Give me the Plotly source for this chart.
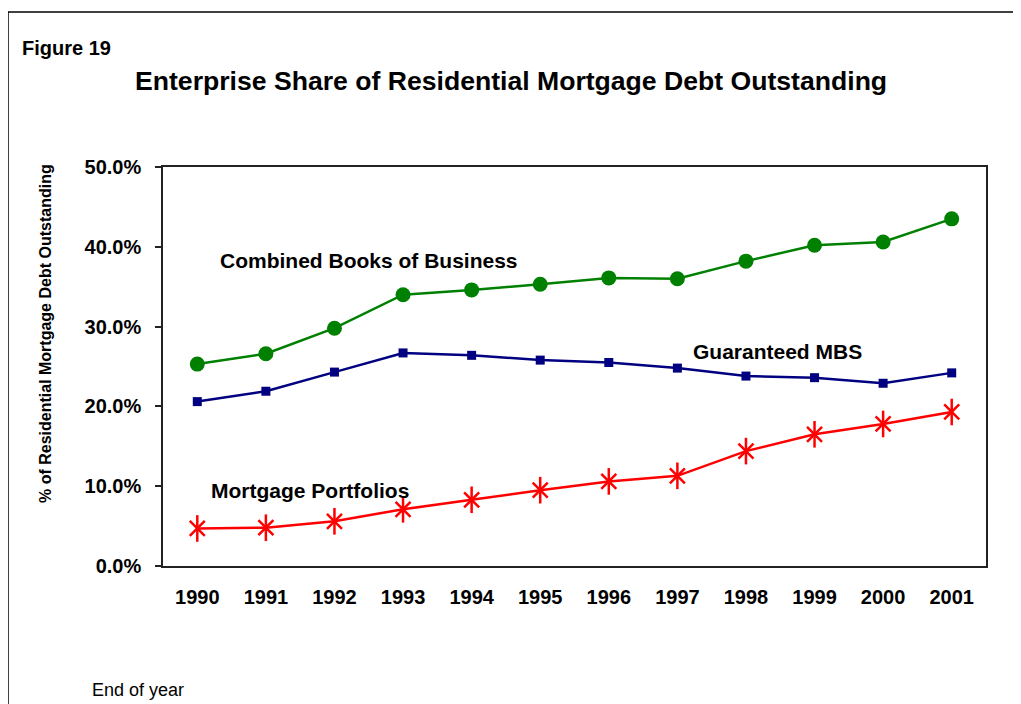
import plotly.graph_objects as go

years = ["1990", "1991", "1992", "1993", "1994", "1995", "1996", "1997", "1998", "1999", "2000", "2001"]
combined = [25.3, 26.6, 29.8, 34.0, 34.6, 35.3, 36.1, 36.0, 38.2, 40.2, 40.6, 43.5]
guaranteed_mbs = [20.6, 21.9, 24.3, 26.7, 26.4, 25.8, 25.5, 24.8, 23.8, 23.6, 22.9, 24.2]
portfolios = [4.7, 4.8, 5.6, 7.1, 8.3, 9.5, 10.6, 11.3, 14.4, 16.5, 17.8, 19.3]
y_ticks = [0, 10, 20, 30, 40, 50]
y_tick_labels = ["0.0%", "10.0%", "20.0%", "30.0%", "40.0%", "50.0%"]

FONT = "Arial, Liberation Sans, sans-serif"
OFF = 8  # default body margin of the html page
W, H = 1021 - OFF, 704 - OFF
L, R, T, B = 163, 986, 167, 566  # plot area in page pixels

def px(x):
    return (x - L) / (R - L)

def py(y):
    return (B - y) / (B - T)

fig = go.Figure()
fig.add_trace(go.Scatter(x=years, y=combined, mode="lines+markers", name="Combined Books of Business",
                         line=dict(color="#008000", width=2.5),
                         marker=dict(symbol="circle", size=15, color="#008000")))
fig.add_trace(go.Scatter(x=years, y=guaranteed_mbs, mode="lines+markers", name="Guaranteed MBS",
                         line=dict(color="#000080", width=2.5),
                         marker=dict(symbol="square", size=9, color="#000080")))
fig.add_trace(go.Scatter(x=years, y=portfolios, mode="lines+markers", name="Mortgage Portfolios",
                         line=dict(color="#FF0000", width=2.5),
                         marker=dict(symbol="x-thin-open", size=15, color="#FF0000",
                                     line=dict(color="#FF0000", width=2.5))))
fig.add_trace(go.Scatter(x=years, y=portfolios, mode="markers", name="Mortgage Portfolios",
                         marker=dict(symbol="line-ns-open", size=19, color="#FF0000",
                                     line=dict(color="#FF0000", width=2.5))))

fig.update_layout(
    width=W, height=H,
    margin=dict(l=L - OFF, r=W - (R - OFF), t=T - OFF, b=H - (B - OFF), pad=0),
    paper_bgcolor="white", plot_bgcolor="white",
    showlegend=False,
    font=dict(family=FONT, color="black"),
    xaxis=dict(type="category", range=[-0.5, len(years) - 0.5], autorange=False,
               showgrid=False, zeroline=False, showline=True,
               linecolor="#222", linewidth=1.5, mirror=True, ticks="",
               tickfont=dict(family=FONT, size=20, color="black", weight="bold"),
               ticklabelstandoff=12),
    yaxis=dict(range=[0, 50], autorange=False, tickvals=y_ticks, ticktext=y_tick_labels,
               showgrid=False, zeroline=False, showline=True, linecolor="#222",
               linewidth=1.5, mirror=True, ticks="outside", ticklen=6,
               tickcolor="#222", tickwidth=1.5,
               tickfont=dict(family=FONT, size=20, color="black", weight="bold"),
               ticklabelstandoff=10),
)

shapes = [
    dict(type="line", xref="paper", yref="paper", x0=px(8), x1=px(8), y0=py(710), y1=py(12),
         line=dict(color="black", width=1.5)),
    dict(type="line", xref="paper", yref="paper", x0=px(8), x1=px(1030), y0=py(12), y1=py(12),
         line=dict(color="black", width=1.5)),
]
fig.update_layout(shapes=shapes)

ann = [
    dict(text="<b>Figure 19</b>", x=px(20), y=py(48), xanchor="left", size=20),
    dict(text="<b>Enterprise Share of Residential Mortgage Debt Outstanding</b>", x=px(511), y=py(81),
         xanchor="center", size=26.6),
    dict(text="<b>Combined Books of Business</b>", x=px(218), y=py(260), xanchor="left", size=21),
    dict(text="<b>Guaranteed MBS</b>", x=px(691), y=py(351), xanchor="left", size=21),
    dict(text="<b>Mortgage Portfolios</b>", x=px(209), y=py(490), xanchor="left", size=21),
    dict(text="End of year", x=px(90), y=py(690), xanchor="left", size=18),
]
for a in ann:
    fig.add_annotation(text=a["text"], x=a["x"], y=a["y"], xref="paper", yref="paper",
                       xanchor=a["xanchor"], yanchor="middle", showarrow=False,
                       font=dict(family=FONT, size=a["size"], color="black"))

fig.add_annotation(text="<b>% of Residential Mortgage Debt Outstanding</b>", x=px(45), y=py(334),
                   xref="paper", yref="paper", xanchor="center", yanchor="middle",
                   showarrow=False, textangle=-90,
                   font=dict(family=FONT, size=16, color="black"))

fig.write_html("out.html")
